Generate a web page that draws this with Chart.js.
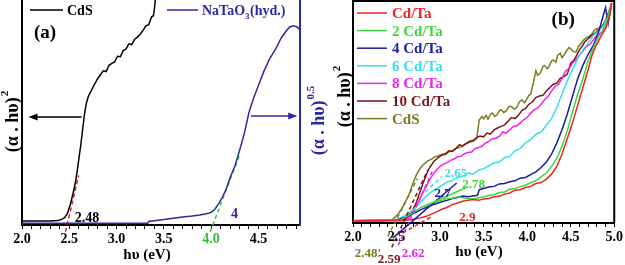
<!DOCTYPE html>
<html>
<head>
<meta charset="utf-8">
<script src="https://cdn.jsdelivr.net/npm/chart.js"></script>
<style>
  html, body { margin: 0; padding: 0; background: #fff; }
  #wrap { position: relative; width: 625px; height: 265px; background: #fff; }
  #wrap canvas { position: absolute; left: 0; top: 0; }
</style>
</head>
<body>
<div id="wrap">
  <canvas id="chartA" width="625" height="265"></canvas>
  <canvas id="chartB" width="625" height="265"></canvas>
</div>
<script>
// ---------- panel (a) ----------
const eA_cds = [2.0, 2.3, 2.38, 2.42, 2.45, 2.48, 2.51, 2.54, 2.57, 2.6, 2.62, 2.64, 2.66, 2.68, 2.7, 2.73, 2.76, 2.8, 2.83, 2.86, 2.89, 2.92, 2.95, 2.98, 3.01, 3.04, 3.07, 3.1, 3.13, 3.16, 3.19, 3.22, 3.25, 3.28, 3.31, 3.34, 3.37, 3.39, 3.4, 3.41];
const vA_cds = [1.8, 1.8, 2, 2.5, 3.3, 5, 9, 14, 20, 29, 35, 42, 49, 54, 57, 59.5, 62, 65, 66.8, 68.5, 68.2, 71, 71.8, 72.5, 75, 74.8, 77.5, 78.2, 80.5, 80.2, 82.5, 83.5, 84.8, 86.5, 88.5, 89, 92.5, 93, 96, 100];
const eA_nto = [2.0, 3.33, 3.34, 3.4, 3.5, 3.6, 3.7, 3.8, 3.88, 3.95, 4.0, 4.04, 4.08, 4.12, 4.16, 4.2, 4.25, 4.3, 4.35, 4.4, 4.45, 4.5, 4.56, 4.62, 4.68, 4.74, 4.79, 4.83, 4.87, 4.91, 4.94];
const vA_nto = [0.8, 0.8, 1.6, 1.9, 2.4, 3, 3.6, 4, 4.4, 5, 5.6, 7, 9.5, 12.4, 16, 21, 26, 33, 40.5, 50, 56.5, 62, 68.5, 74, 78, 83, 86, 88, 88.5, 88, 86.7];
const tanA_cds = { x: [2.46, 2.6], y: [-3, 22] };
const tanA_nto = { x: [3.99, 4.3], y: [-3, 31] };
const xTicksA = [2.0, 2.1, 2.2, 2.3, 2.4, 2.5, 2.6, 2.7, 2.8, 2.9, 3.0, 3.1, 3.2, 3.3, 3.4, 3.5, 3.6, 3.7, 3.8, 3.9, 4.0, 4.1, 4.2, 4.3, 4.4, 4.5, 4.6, 4.7, 4.8, 4.9];
const xLabelsA = [2.0, 2.5, 3.0, 3.5, 4.0, 4.5];

// ---------- panel (b) ----------
const seriesB = ['Cd/Ta', '2 Cd/Ta', '4 Cd/Ta', '6 Cd/Ta', '8 Cd/Ta', '10 Cd/Ta', 'CdS'];
const colorsB = ['#ee2222', '#3cd83c', '#1c1ca4', '#33e2ea', '#ee22ee', '#7a1616', '#7d7a24'];

const eB_0 = [2.0, 2.6, 2.68, 2.76, 2.84, 2.9, 2.96, 3.02, 3.08, 3.14, 3.2, 3.26, 3.32, 3.38, 3.44, 3.5, 3.56, 3.62, 3.68, 3.74, 3.8, 3.86, 3.92, 3.98, 4.04, 4.1, 4.16, 4.22, 4.28, 4.34, 4.4, 4.46, 4.52, 4.58, 4.64, 4.7, 4.74, 4.78, 4.82, 4.86, 4.9, 4.94, 4.97];
const vB_0 = [1, 1.2, 1.6, 2.2, 3, 4, 5, 6.2, 7, 8.3, 9, 9.8, 10.2, 10.6, 10.2, 10.8, 11, 11.8, 12, 13, 13.5, 14.8, 15, 16, 16.5, 17.8, 18.2, 19.8, 22, 25.5, 31, 38, 45, 53, 61, 69, 75, 79, 82, 85, 87.5, 92, 99];

const eB_2 = [2.0, 2.54, 2.6, 2.66, 2.72, 2.78, 2.84, 2.9, 2.96, 3.02, 3.08, 3.14, 3.2, 3.26, 3.32, 3.38, 3.44, 3.5, 3.56, 3.62, 3.68, 3.74, 3.8, 3.86, 3.92, 3.98, 4.04, 4.1, 4.16, 4.22, 4.28, 4.34, 4.4, 4.46, 4.52, 4.58, 4.64, 4.7, 4.76, 4.82, 4.88, 4.93, 4.97];
const vB_2 = [1, 1.3, 2.5, 4, 5.5, 7, 8, 8.8, 9.6, 10.2, 11, 11.2, 11.8, 11.4, 11, 10.8, 11.3, 11.8, 12.4, 12.8, 13.7, 14, 15.2, 15.5, 16.4, 17, 18.2, 19, 20.8, 22.5, 25.5, 29, 34.5, 41.5, 50, 58, 65, 73, 79, 84, 87, 93, 99];

const eB_4 = [2.0, 2.48, 2.54, 2.6, 2.66, 2.72, 2.78, 2.84, 2.9, 2.96, 3.02, 3.08, 3.14, 3.2, 3.26, 3.32, 3.38, 3.43, 3.45, 3.5, 3.56, 3.62, 3.68, 3.74, 3.8, 3.86, 3.92, 3.98, 4.04, 4.1, 4.16, 4.22, 4.28, 4.34, 4.4, 4.46, 4.52, 4.58, 4.64, 4.7, 4.76, 4.82, 4.87, 4.9, 4.93, 4.97];
const vB_4 = [1, 1.2, 1.8, 2.6, 3.6, 4.8, 6, 7, 8, 8.8, 9.6, 10.2, 11, 11.5, 12.2, 11.8, 12.2, 12.5, 15, 15.5, 16.2, 16.5, 17.6, 17.8, 18.6, 19, 20.2, 20.5, 21.8, 23, 25, 27.5, 31, 36, 42, 49, 57, 65, 71, 76, 80, 86, 93, 97, 90, 99];

const eB_6 = [2.0, 2.48, 2.54, 2.6, 2.66, 2.72, 2.78, 2.84, 2.9, 2.96, 3.02, 3.08, 3.14, 3.2, 3.26, 3.32, 3.38, 3.44, 3.5, 3.56, 3.62, 3.68, 3.74, 3.8, 3.86, 3.92, 3.98, 4.04, 4.1, 4.16, 4.22, 4.28, 4.34, 4.4, 4.46, 4.52, 4.58, 4.64, 4.7, 4.76, 4.82, 4.88, 4.94];
const vB_6 = [1, 1.2, 2.2, 3.5, 5, 7, 9.5, 12, 14, 15.5, 17, 18.5, 19, 20.5, 21, 22.5, 22, 23.8, 24.5, 25.8, 27, 27.5, 29.5, 30, 32.5, 33.5, 36, 37.5, 40, 41, 44, 47, 52, 58, 64, 69, 74, 78, 81, 84.5, 86.5, 89, 95];

const eB_8 = [2.0, 2.6, 2.64, 2.68, 2.72, 2.76, 2.8, 2.84, 2.88, 2.92, 2.96, 3.0, 3.04, 3.08, 3.12, 3.16, 3.2, 3.24, 3.28, 3.32, 3.36, 3.4, 3.44, 3.48, 3.52, 3.56, 3.6, 3.64, 3.68, 3.72, 3.76, 3.8, 3.84, 3.88, 3.92, 3.96, 4.0, 4.04, 4.08, 4.12, 4.16, 4.2, 4.24, 4.28, 4.32, 4.36, 4.4, 4.44, 4.48, 4.52, 4.56, 4.6, 4.64, 4.68, 4.72, 4.76, 4.8, 4.86, 4.92];
const vB_8 = [1, 1.2, 2.3, 4.5, 7, 10, 13.5, 16.5, 19.5, 22, 24, 25.5, 26.5, 27.2, 28.2, 28.8, 29.8, 30, 31.2, 31.8, 32, 33.5, 34, 34.5, 36, 36.8, 38, 38.2, 39, 41, 40.5, 42, 43.5, 43.8, 45, 46.5, 47.5, 49.5, 51, 51.8, 53.5, 55.5, 57, 59.5, 61.5, 62.5, 65, 68.5, 69.5, 72, 73.5, 75.5, 77.5, 79.5, 80.5, 82.5, 84.5, 86, 91];

const eB_10 = [2.0, 2.56, 2.6, 2.64, 2.68, 2.72, 2.76, 2.8, 2.84, 2.88, 2.93, 2.98, 3.02, 3.06, 3.1, 3.14, 3.18, 3.22, 3.26, 3.3, 3.34, 3.38, 3.42, 3.46, 3.5, 3.54, 3.58, 3.62, 3.66, 3.7, 3.74, 3.78, 3.82, 3.86, 3.9, 3.94, 3.98, 4.02, 4.06, 4.1, 4.14, 4.18, 4.22, 4.26, 4.3, 4.34, 4.38, 4.42, 4.46, 4.5, 4.53, 4.56, 4.6, 4.63, 4.66, 4.7, 4.74, 4.78, 4.82, 4.86, 4.9, 4.96];
const vB_10 = [1, 1.1, 1.8, 3.5, 5.5, 8.5, 13, 17.5, 21.5, 25, 27.8, 29.5, 30.6, 31.2, 32.5, 32.2, 33.5, 35.2, 34.8, 35.8, 36.8, 37.2, 38.5, 39.2, 38.8, 40.5, 40, 42, 42.8, 43.5, 44.2, 45.8, 47.5, 47, 48.5, 50.8, 51.5, 53.5, 54.5, 56.5, 57.2, 57.5, 59.5, 61, 62.5, 63, 65.2, 66, 67, 72, 73, 74.8, 78, 79.5, 81.5, 83, 84.5, 85.5, 87, 88.5, 91, 97];

const eB_cds = [2.0, 2.44, 2.48, 2.52, 2.56, 2.6, 2.64, 2.68, 2.72, 2.76, 2.8, 2.86, 2.9, 2.94, 2.98, 3.02, 3.06, 3.1, 3.14, 3.18, 3.22, 3.26, 3.3, 3.34, 3.38, 3.42, 3.45, 3.48, 3.5, 3.53, 3.55, 3.58, 3.6, 3.63, 3.65, 3.68, 3.7, 3.73, 3.76, 3.79, 3.82, 3.85, 3.88, 3.91, 3.94, 3.97, 4.0, 4.02, 4.04, 4.07, 4.1, 4.12, 4.15, 4.18, 4.2, 4.23, 4.25, 4.28, 4.3, 4.33, 4.35, 4.38, 4.4, 4.43, 4.45, 4.48, 4.5, 4.53, 4.56, 4.59, 4.62, 4.65, 4.68, 4.71, 4.74, 4.77, 4.8, 4.83, 4.86, 4.89, 4.92, 4.97];
const vB_cds = [1, 1.2, 2.5, 4.2, 6.5, 9.5, 12.5, 17, 21, 24, 26, 28, 28.8, 29.8, 30.2, 31, 30.8, 32, 32.6, 33.5, 34, 34.6, 35.8, 36.5, 36.8, 38, 46.5, 48, 47, 48.5, 46.8, 49, 49.5, 48, 48.5, 50.5, 51, 49.8, 50.5, 52.5, 52.5, 51.2, 52, 54.5, 55.5, 54.2, 56, 57.5, 58, 63, 68.5, 66.5, 67.5, 70.5, 71, 69.5, 70.5, 73, 73.5, 72.5, 75.5, 76.5, 74.5, 76, 77.5, 79, 78.5, 77.2, 77, 79.5, 81, 82.5, 83.5, 84, 85, 86.8, 87.5, 87.8, 88.5, 90.5, 93, 99];

const energiesB = [eB_0, eB_2, eB_4, eB_6, eB_8, eB_10, eB_cds];
const valuesB = [vB_0, vB_2, vB_4, vB_6, vB_8, vB_10, vB_cds];

// tangent lines drawn in panel (b): series index, energies, values, dashed
const tangentsB = [
  { s: 0, x: [2.57, 2.9], y: [-4.5, 2.8], dash: true },
  { s: 1, x: [2.85, 3.3], y: [8, 16], dash: false },
  { s: 2, x: [2.456, 3.19], y: [-6.8, 18], dash: false },
  { s: 3, x: [2.83, 3.02], y: [14, 21], dash: true },
  { s: 4, x: [2.52, 2.92], y: [-10, 24], dash: true },
  { s: 5, x: [2.445, 2.86], y: [-11, 24], dash: true },
  { s: 6, x: [2.40, 2.74], y: [-6, 20], dash: true }
];
const gapLabelsB = [
  { s: 0, text: '2.9', x: 3.22, y: 0.9 },
  { s: 1, text: '2.78', x: 3.255, y: 15.8 },
  { s: 2, text: '2.7', x: 2.935, y: 11.7 },
  { s: 3, text: '2.65', x: 3.05, y: 20.7 },
  { s: 4, text: '2.62', x: 2.56, y: -15.3 },
  { s: 5, text: '2.59', x: 2.285, y: -18 },
  { s: 6, text: '2.48\'', x: 2.02, y: -15.3 }
];
const xTicksB = [2.0, 2.1, 2.2, 2.3, 2.4, 2.5, 2.6, 2.7, 2.8, 2.9, 3.0, 3.1, 3.2, 3.3, 3.4, 3.5, 3.6, 3.7, 3.8, 3.9, 4.0, 4.1, 4.2, 4.3, 4.4, 4.5, 4.6, 4.7, 4.8, 4.9, 5.0];
const xLabelsB = [2.0, 2.5, 3.0, 3.5, 4.0, 4.5, 5.0];

// ---------- helpers ----------
const FONT = '"Liberation Serif", "Times New Roman", serif';
const BLUE_A = '#2a2aa2';
const pts = (xs, ys) => xs.map((x, i) => ({ x: x, y: ys[i] }));
const isLabel = (list, v) => list.some(l => Math.abs(l - v) < 1e-6);

function txt(ctx, s, x, y, color, size, align) {
  ctx.save();
  ctx.font = 'bold ' + size + 'px ' + FONT;
  ctx.fillStyle = color;
  ctx.textAlign = align || 'left';
  ctx.textBaseline = 'alphabetic';
  ctx.fillText(s, x, y);
  ctx.restore();
}

function vTitle(ctx, cx, cy, main, sup, color) {
  ctx.save();
  ctx.translate(cx, cy);
  ctx.rotate(-Math.PI / 2);
  ctx.fillStyle = color;
  ctx.textBaseline = 'middle';
  ctx.font = 'bold 18px ' + FONT;
  const w1 = ctx.measureText(main).width;
  ctx.font = 'bold 11px ' + FONT;
  const w2 = ctx.measureText(sup).width;
  const x0 = -(w1 + w2) / 2;
  ctx.font = 'bold 18px ' + FONT;
  ctx.fillText(main, x0, 0);
  ctx.font = 'bold 11px ' + FONT;
  ctx.fillText(sup, x0 + w1 + 1, -8);
  ctx.restore();
}

function arrow(ctx, x1, y1, x2, y2, color) {
  ctx.save();
  ctx.strokeStyle = color;
  ctx.fillStyle = color;
  ctx.lineWidth = 1.5;
  ctx.beginPath();
  ctx.moveTo(x1, y1);
  ctx.lineTo(x2, y2);
  ctx.stroke();
  const dir = Math.sign(x2 - x1);
  ctx.beginPath();
  ctx.moveTo(x2 + dir * 2, y2);
  ctx.lineTo(x2 - dir * 7, y2 - 3.5);
  ctx.lineTo(x2 - dir * 7, y2 + 3.5);
  ctx.closePath();
  ctx.fill();
  ctx.restore();
}

function xAxis(min, max, ticks, labels, size, height, labelColor) {
  return {
    type: 'linear', min: min, max: max,
    afterBuildTicks: s => { s.ticks = ticks.map(v => ({ value: v })); },
    afterFit: s => { s.height = height; },
    grid: { drawOnChartArea: false, drawTicks: true, tickLength: 4, color: '#000', tickWidth: 1 },
    border: { color: '#000', width: 2 },
    ticks: {
      autoSkip: false, maxRotation: 0, padding: 2,
      font: { family: FONT, weight: 'bold', size: size },
      color: labelColor || '#000',
      callback: v => isLabel(labels, v) ? v.toFixed(1) : ''
    }
  };
}

// ---------- chart (a) ----------
const annotA = {
  id: 'annotA',
  afterDraw(chart) {
    const ctx = chart.ctx, xs = chart.scales.x, ys = chart.scales.y, y1 = chart.scales.y1;
    const a = chart.chartArea;
    // legend
    ctx.save();
    ctx.lineWidth = 1.5;
    ctx.strokeStyle = '#000';
    ctx.beginPath(); ctx.moveTo(a.left + 8, 10); ctx.lineTo(a.left + 41, 10); ctx.stroke();
    ctx.strokeStyle = BLUE_A;
    ctx.beginPath(); ctx.moveTo(a.left + 145, 10); ctx.lineTo(a.left + 176, 10); ctx.stroke();
    ctx.restore();
    txt(ctx, chart.data.datasets[0].label, a.left + 45, 15, '#000', 14);
    txt(ctx, 'NaTaO', a.left + 180, 15, BLUE_A, 14);
    ctx.save(); ctx.font = 'bold 14px ' + FONT;
    const w = ctx.measureText('NaTaO').width; ctx.restore();
    txt(ctx, '3', a.left + 180 + w, 19, BLUE_A, 9);
    txt(ctx, '(hyd.)', a.left + 180 + w + 5, 15, BLUE_A, 14);
    // panel tag and gap values
    txt(ctx, '(a)', xs.getPixelForValue(2.126), ys.getPixelForValue(83), '#000', 19);
    txt(ctx, '2.48', xs.getPixelForValue(2.558), ys.getPixelForValue(1.3), '#000', 14);
    txt(ctx, '4', xs.getPixelForValue(4.21), y1.getPixelForValue(3.1), BLUE_A, 14);
    // axis arrows
    arrow(ctx, xs.getPixelForValue(2.63), ys.getPixelForValue(48), xs.getPixelForValue(2.09), ys.getPixelForValue(48), '#000');
    arrow(ctx, xs.getPixelForValue(4.42), y1.getPixelForValue(48.4), xs.getPixelForValue(4.89), y1.getPixelForValue(48.4), BLUE_A);
    // axis titles
    vTitle(ctx, 13, 122, '(\u03b1 . h\u03c5)', '2', '#000');
    vTitle(ctx, 319, 121, '(\u03b1 . h\u03c5)', '0.5', BLUE_A);
    txt(ctx, 'h\u03c5 (eV)', 147, 259, '#000', 15, 'center');
  }
};

new Chart(document.getElementById('chartA'), {
  type: 'line',
  data: {
    datasets: [
      { label: 'CdS', data: pts(eA_cds, vA_cds), yAxisID: 'y', borderColor: '#000', borderWidth: 1.5, pointRadius: 0, tension: 0 },
      { label: 'NaTaO3(hyd.)', data: pts(eA_nto, vA_nto), yAxisID: 'y1', borderColor: BLUE_A, borderWidth: 1.5, pointRadius: 0, tension: 0 },
      { label: 'fit CdS', data: pts(tanA_cds.x, tanA_cds.y), yAxisID: 'y', borderColor: '#e82020', borderWidth: 1.5, borderDash: [4, 3], pointRadius: 0, clip: false },
      { label: 'fit NaTaO3', data: pts(tanA_nto.x, tanA_nto.y), yAxisID: 'y1', borderColor: '#33cc33', borderWidth: 1.5, borderDash: [4, 3], pointRadius: 0, clip: false }
    ]
  },
  options: {
    responsive: false, animation: false,
    layout: { padding: { top: 0, left: 0, right: 295, bottom: 0 } },
    plugins: { legend: { display: false }, tooltip: { enabled: false } },
    scales: {
      x: xAxis(2.0, 4.94, xTicksA, xLabelsA, 14, 40, c => Math.abs(c.tick.value - 4.0) < 1e-6 ? '#33bb33' : '#000'),
      y: {
        min: 0, max: 100, position: 'left',
        ticks: { display: false }, grid: { display: false },
        border: { color: '#000', width: 2 },
        afterFit: s => { s.width = 22; }
      },
      y1: {
        min: 0, max: 100, position: 'right',
        ticks: { display: false }, grid: { display: false },
        border: { color: BLUE_A, width: 2 },
        afterFit: s => { s.width = 30; }
      }
    }
  },
  plugins: [annotA]
});

// ---------- chart (b) ----------
const datasetsB = seriesB.map((name, i) => ({
  label: name, data: pts(energiesB[i], valuesB[i]), borderColor: colorsB[i],
  borderWidth: 1.5, pointRadius: 0, tension: 0, order: i
}));
tangentsB.forEach(t => datasetsB.push({
  label: '', data: pts(t.x, t.y), borderColor: colorsB[t.s], borderWidth: 1.5,
  borderDash: t.dash ? [4, 3] : [], pointRadius: 0, clip: false, order: -1
}));

const annotB = {
  id: 'annotB',
  afterDraw(chart) {
    const ctx = chart.ctx, xs = chart.scales.x, ys = chart.scales.y;
    const a = chart.chartArea;
    // frame top and right
    ctx.save();
    ctx.strokeStyle = '#000'; ctx.lineWidth = 2;
    ctx.beginPath();
    ctx.moveTo(a.left, a.top); ctx.lineTo(a.right, a.top); ctx.lineTo(a.right, a.bottom);
    ctx.stroke();
    ctx.restore();
    // legend
    seriesB.forEach((name, i) => {
      const y = a.top + 12 + i * 17.6;
      ctx.save();
      ctx.strokeStyle = colorsB[i]; ctx.lineWidth = 1.5;
      ctx.beginPath(); ctx.moveTo(a.left + 4, y); ctx.lineTo(a.left + 34, y); ctx.stroke();
      ctx.restore();
      txt(ctx, name, a.left + 39, y + 5, colorsB[i], 15);
    });
    txt(ctx, '(b)', xs.getPixelForValue(4.28), ys.getPixelForValue(89.2), '#000', 19);
    gapLabelsB.forEach(g => {
      txt(ctx, g.text, xs.getPixelForValue(g.x), ys.getPixelForValue(g.y), colorsB[g.s], 13);
    });
    vTitle(ctx, 345, 97, '(\u03b1 . h\u03c5)', '2', '#000');
    txt(ctx, 'h\u03c5 (eV)', 479, 256, '#000', 15, 'center');
  }
};

new Chart(document.getElementById('chartB'), {
  type: 'line',
  data: { datasets: datasetsB },
  options: {
    responsive: false, animation: false,
    layout: { padding: { top: 1, left: 330, right: 9, bottom: 0 } },
    plugins: { legend: { display: false }, tooltip: { enabled: false } },
    scales: {
      x: xAxis(2.0, 5.0, xTicksB, xLabelsB, 14, 42),
      y: {
        min: 0, max: 100,
        ticks: { display: false }, grid: { display: false },
        border: { color: '#000', width: 2 },
        afterFit: s => { s.width = 23; }
      }
    }
  },
  plugins: [annotB]
});
</script>
</body>
</html>
